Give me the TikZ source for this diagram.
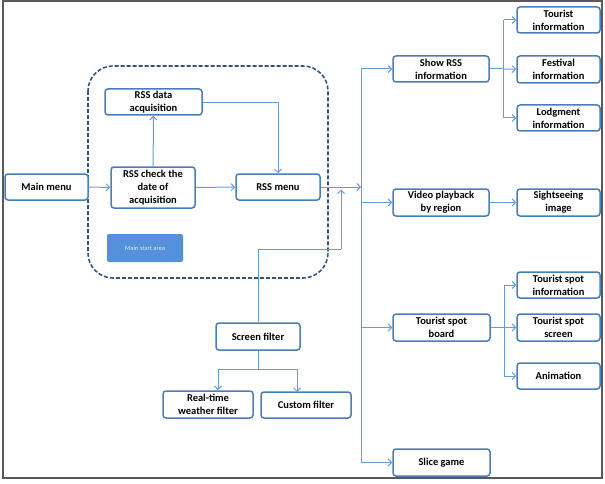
\documentclass[tikz,border=0pt]{standalone}
\usepackage{fontspec}
\setmainfont{Carlito}
\usetikzlibrary{arrows.meta}
\definecolor{boxblue}{HTML}{4A7EBB}
\definecolor{linkblue}{HTML}{6A9BD8}
\definecolor{dashblue}{HTML}{34547F}
\definecolor{fillblue}{HTML}{5590DA}
\tikzset{
  box/.style={draw=boxblue, line width=1.5pt, rounded corners=3pt, fill=white, align=center,
    font=\fontsize{10.5}{13}\selectfont\bfseries, inner sep=0pt},
  link/.style={draw=linkblue, line width=1pt, -{Straight Barb[length=3.5pt,width=7pt]}},
  plain/.style={draw=linkblue, line width=1pt},
}
\begin{document}
\begin{tikzpicture}[x=1pt,y=-1pt]
\useasboundingbox (0,0) rectangle (605,484);
\draw[gray!70!black, line width=1.6pt] (3,1) rectangle (602,478);
% dashed main area
\draw[dashblue, line width=1.6pt, dash pattern=on 4pt off 2pt, rounded corners=25pt] (88,66) rectangle (328,278);
% nodes
\node[box, minimum width=83pt, minimum height=26pt] (main) at (46.5,187) {Main menu};
\node[box, minimum width=84pt, minimum height=41pt] (check) at (153,187.5) {RSS check the\\date of\\acquisition};
\node[box, minimum width=97pt, minimum height=26pt] (data) at (153.5,102) {RSS data\\acquisition};
\node[box, minimum width=84pt, minimum height=26pt] (rss) at (278,187) {RSS menu};
\node[draw=none, fill=fillblue, rounded corners=2pt, minimum width=76pt, minimum height=28pt,
  text=white!85!fillblue, font=\fontsize{6.5}{7.5}\selectfont] (start) at (145,248) {Main start area};
\node[box, minimum width=84pt, minimum height=27pt] (screen) at (258,336.5) {Screen filter};
\node[box, minimum width=90pt, minimum height=27pt] (real) at (208,404.5) {Real-time\\weather filter};
\node[box, minimum width=90pt, minimum height=26pt] (custom) at (306,405) {Custom filter};
\node[box, minimum width=96pt, minimum height=26pt] (show) at (441,69) {Show RSS\\information};
\node[box, minimum width=83pt, minimum height=26pt] (tinfo) at (558.5,20) {Tourist\\information};
\node[box, minimum width=83pt, minimum height=27pt] (fest) at (558.5,69.5) {Festival\\information};
\node[box, minimum width=83pt, minimum height=26pt] (lodg) at (558.5,118) {Lodgment\\information};
\node[box, minimum width=96pt, minimum height=27pt] (video) at (441,202.5) {Video playback\\by region};
\node[box, minimum width=83pt, minimum height=27pt] (sight) at (558.5,202.5) {Sightseeing\\image};
\node[box, minimum width=97pt, minimum height=27pt] (board) at (441.5,327.5) {Tourist spot\\board};
\node[box, minimum width=83pt, minimum height=26pt] (tspi) at (558.5,285) {Tourist spot\\information};
\node[box, minimum width=83pt, minimum height=27pt] (tsps) at (558.5,327.5) {Tourist spot\\screen};
\node[box, minimum width=83pt, minimum height=26pt] (anim) at (558.5,376) {Animation};
\node[box, minimum width=97pt, minimum height=27pt] (slice) at (441.5,462.5) {Slice game};
% coordinates
\coordinate (tmid) at (361,187);
\coordinate (ttop) at (361,69);
\coordinate (tbot) at (361,462.5);
\coordinate (sj) at (341,249);
\coordinate (stip) at (341,189.5);
\coordinate (fj) at (258,369);
\coordinate (fl) at (218,369);
\coordinate (fr) at (297,369);
\coordinate (fla) at (218,390);
\coordinate (fra) at (297,392);
\coordinate (b1) at (503.5,69);
\coordinate (b2) at (504,327.5);
% connectors
\draw[link] (main) -- (check);
\draw[link] (check) -- (data);
\draw[link] (check) -- (rss);
\draw[link] (data.east |- 0,103) -| (rss.north);
\draw[link] (rss) -- (tmid);
\draw[plain] (screen.north) |- (sj);
\draw[link] (sj) -- (stip);
\draw[plain] (screen.south) -- (fj);
\draw[plain] (fl) -- (fr);
\draw[link] (fl) -- (fla);
\draw[link] (fr) -- (fra);
\draw[plain] (ttop) -- (tbot);
\draw[link] (ttop) -- (show);
\draw[link] (tmid |- video) -- (video);
\draw[link] (tmid |- board) -- (board);
\draw[link] (tbot) -- (slice);
\draw[plain] (show) -- (b1);
\draw[link] (b1 |- tinfo) -- (tinfo);
\draw[link] (b1) -- (fest);
\draw[link] (b1 |- lodg) -- (lodg);
\draw[plain] (b1 |- tinfo) -- (b1 |- lodg);
\draw[link] (video) -- (sight);
\draw[plain] (board) -- (b2);
\draw[plain] (b2 |- tspi) -- (b2 |- anim);
\draw[link] (b2 |- tspi) -- (tspi);
\draw[link] (b2) -- (tsps);
\draw[link] (b2 |- anim) -- (anim);
\end{tikzpicture}
\end{document}
